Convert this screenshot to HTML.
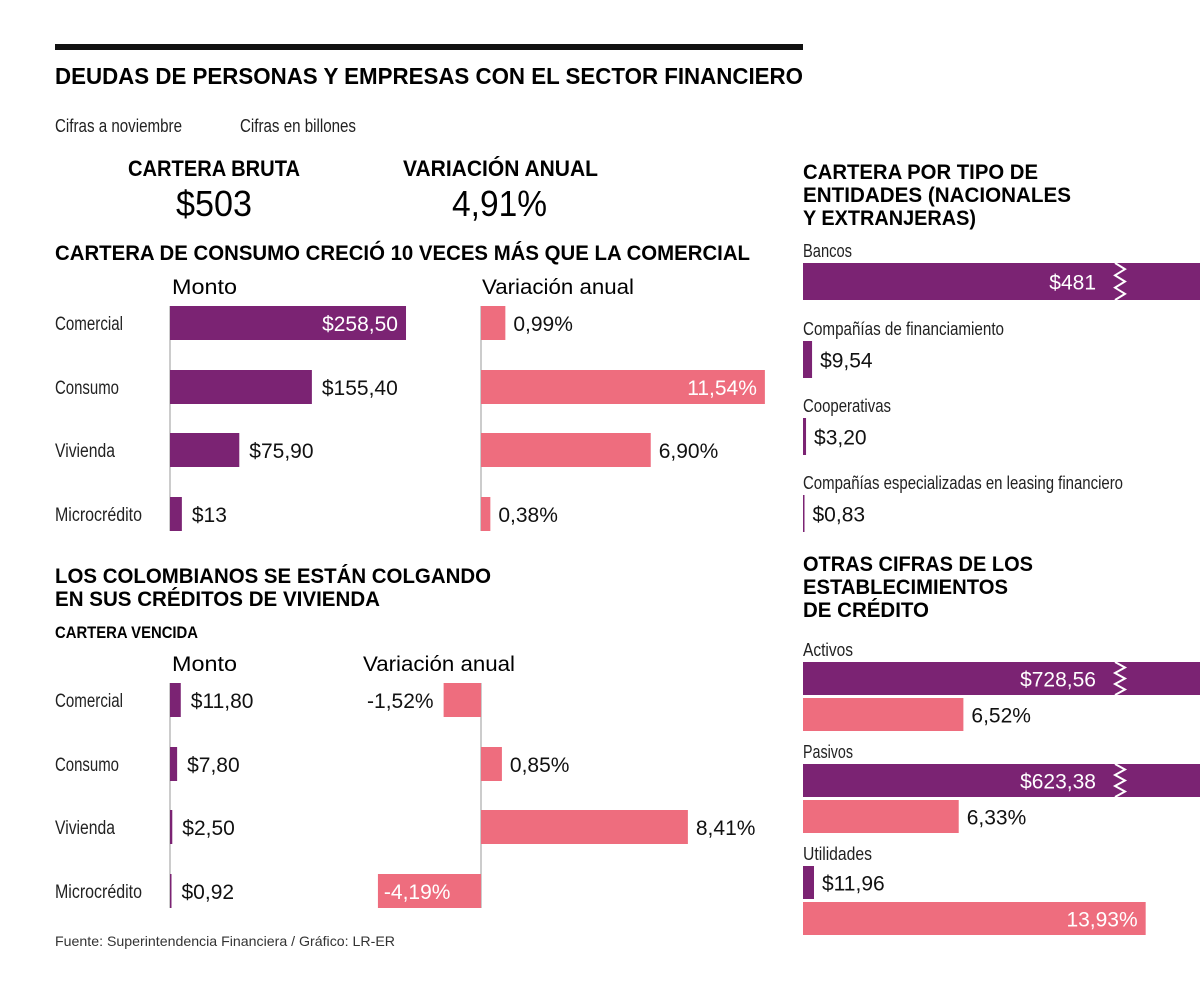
<!DOCTYPE html>
<html><head><meta charset="utf-8">
<style>
html,body{margin:0;padding:0;background:#fff;}
svg{display:block;font-family:"Liberation Sans Narrow","Liberation Sans",sans-serif;}
.b{font-weight:bold;}
</style></head>
<body>
<svg id="c" width="1200" height="996" viewBox="0 0 1200 996" xmlns="http://www.w3.org/2000/svg">
<rect x="55" y="44" width="748" height="6" fill="#111"/>
<text x="55" y="84" font-size="23" class="b" textLength="748" lengthAdjust="spacingAndGlyphs">DEUDAS DE PERSONAS Y EMPRESAS CON EL SECTOR FINANCIERO</text>
<text x="55" y="132" font-size="18" textLength="127" lengthAdjust="spacingAndGlyphs" fill="#222">Cifras a noviembre</text>
<text x="240" y="132" font-size="18" textLength="116" lengthAdjust="spacingAndGlyphs" fill="#222">Cifras en billones</text>
<text x="128" y="176" font-size="22" class="b" textLength="172" lengthAdjust="spacingAndGlyphs">CARTERA BRUTA</text>
<text x="176" y="216" font-size="36" textLength="76" lengthAdjust="spacingAndGlyphs">$503</text>
<text x="403" y="176" font-size="22" class="b" textLength="195" lengthAdjust="spacingAndGlyphs">VARIACIÓN ANUAL</text>
<text x="452" y="216" font-size="36" textLength="95" lengthAdjust="spacingAndGlyphs">4,91%</text>
<text x="55" y="260" font-size="21" class="b" textLength="695" lengthAdjust="spacingAndGlyphs">CARTERA DE CONSUMO CRECIÓ 10 VECES MÁS QUE LA COMERCIAL</text>
<text x="172" y="294" font-size="21" textLength="65" lengthAdjust="spacingAndGlyphs">Monto</text>
<text x="482" y="294" font-size="21" textLength="152" lengthAdjust="spacingAndGlyphs">Variación anual</text>
<text x="55" y="583" font-size="21" class="b" textLength="436" lengthAdjust="spacingAndGlyphs">LOS COLOMBIANOS SE ESTÁN COLGANDO</text>
<text x="55" y="606" font-size="21" class="b" textLength="325" lengthAdjust="spacingAndGlyphs">EN SUS CRÉDITOS DE VIVIENDA</text>
<text x="55" y="638" font-size="17" class="b" textLength="143" lengthAdjust="spacingAndGlyphs">CARTERA VENCIDA</text>
<text x="172" y="671" font-size="21" textLength="65" lengthAdjust="spacingAndGlyphs">Monto</text>
<text x="363" y="671" font-size="21" textLength="152" lengthAdjust="spacingAndGlyphs">Variación anual</text>
<text x="803" y="179" font-size="21" class="b" textLength="235" lengthAdjust="spacingAndGlyphs">CARTERA POR TIPO DE</text>
<text x="803" y="202" font-size="21" class="b" textLength="268" lengthAdjust="spacingAndGlyphs">ENTIDADES (NACIONALES</text>
<text x="803" y="225" font-size="21" class="b" textLength="173" lengthAdjust="spacingAndGlyphs">Y EXTRANJERAS)</text>
<text x="803" y="571" font-size="21" class="b" textLength="230" lengthAdjust="spacingAndGlyphs">OTRAS CIFRAS DE LOS</text>
<text x="803" y="594" font-size="21" class="b" textLength="205" lengthAdjust="spacingAndGlyphs">ESTABLECIMIENTOS</text>
<text x="803" y="617" font-size="21" class="b" textLength="126" lengthAdjust="spacingAndGlyphs">DE CRÉDITO</text>
<text x="55" y="946" font-size="14" textLength="340" lengthAdjust="spacingAndGlyphs" fill="#333">Fuente: Superintendencia Financiera / Gráfico: LR-ER</text>
</svg>
<script>
const categories = ["Comercial","Consumo","Vivienda","Microcrédito"];
const catWidths = [68,64,60,87];
const s1Monto = [258.50,155.40,75.90,13];
const s1MontoLabels = ["$258,50","$155,40","$75,90","$13"];
const s1Var = [0.99,11.54,6.90,0.38];
const s1VarLabels = ["0,99%","11,54%","6,90%","0,38%"];
const s2Monto = [11.80,7.80,2.50,0.92];
const s2MontoLabels = ["$11,80","$7,80","$2,50","$0,92"];
const s2Var = [-1.52,0.85,8.41,-4.19];
const s2VarLabels = ["-1,52%","0,85%","8,41%","-4,19%"];
const entityNames = ["Bancos","Compañías de financiamiento","Cooperativas","Compañías especializadas en leasing financiero"];
const entityNameWidths = [49,201,88,320];
const entityValues = [481,9.54,3.20,0.83];
const entityLabels = ["$481","$9,54","$3,20","$0,83"];
const otherNames = ["Activos","Pasivos","Utilidades"];
const otherNameWidths = [50,50,69];
const otherValues = [728.56,623.38,11.96];
const otherValueLabels = ["$728,56","$623,38","$11,96"];
const otherVar = [6.52,6.33,13.93];
const otherVarLabels = ["6,52%","6,33%","13,93%"];

const NS="http://www.w3.org/2000/svg", svg=document.getElementById('c');
const PUR="#7b2373", PINK="#ee6d7e";
const INSIDE=220;
function mk(tag,attrs){const e=document.createElementNS(NS,tag);for(const k in attrs)e.setAttribute(k,attrs[k]);svg.appendChild(e);return e;}
function txt(x,y,s,size,fill,anchor){const t=mk('text',{x:x,y:y,'font-size':size,fill:fill,'text-anchor':anchor||'start'});t.textContent=s;return t;}
const mScale = v => v*0.913;
const vScale = v => v*24.6;
const BREAKW = 397;

const rows1 = [306,370,433,497], rows2=[683,747,810,874], BH=34;
function section(rows, monto, montoL, vr, vrL, secName){
  const ax=170, vx=481;
  const a1=mk('line',{x1:ax,y1:rows[0],x2:ax,y2:rows[3]+BH,stroke:'#bbb','stroke-width':1.5});
  
  
  const a2=mk('line',{x1:vx,y1:rows[0],x2:vx,y2:rows[3]+BH,stroke:'#bbb','stroke-width':1.5});
  
  
  categories.forEach((c,i)=>{
    const y=rows[i], cy=y+BH/2+7;
    const cl=txt(55,cy,c,19,'#222');
    cl.setAttribute('textLength',catWidths[i]);cl.setAttribute('lengthAdjust','spacingAndGlyphs');
    
    
    const w=Math.max(mScale(monto[i]),1.5);
    const b=mk('rect',{x:ax,y:y,width:w,height:BH,fill:PUR});
    
    
    let l;
    if(w>INSIDE) l=txt(ax+w-8,cy+1,montoL[i],21,'#fff','end'); else l=txt(ax+w+10,cy+1,montoL[i],21,'#111');
    
    
    const vw=vScale(vr[i]);
    const bx= vw>=0? vx : vx+vw;
    const vb=mk('rect',{x:bx,y:y,width:Math.abs(vw),height:BH,fill:PINK});
    
    
    let vl;
    if(vw<0){ vl = Math.abs(vw)>90 ? txt(bx+6,cy+1,vrL[i],21,'#fff') : txt(bx-10,cy+1,vrL[i],21,'#111','end'); }
    else { vl = vw>INSIDE ? txt(vx+vw-8,cy+1,vrL[i],21,'#fff','end') : txt(vx+vw+8,cy+1,vrL[i],21,'#111'); }
    
    
  });
}
section(rows1,s1Monto,s1MontoLabels,s1Var,s1VarLabels,'consumo-section');
section(rows2,s2Monto,s2MontoLabels,s2Var,s2VarLabels,'vencida-section');

function zig(x,y,h){
  let d=`M${x} ${y}`;const n=3,st=h/(n*2);
  for(let k=0;k<n*2;k++){d+=` L${x+(k%2===0?10:0)} ${y+st*(k+1)}`;}
  const p=mk('path',{d:d,fill:'none',stroke:'#fff','stroke-width':2});
  
  
}
function hbar(x,y,w,h,fill,label,name,broken){
  const ww = broken? BREAKW : Math.max(w,1.5);
  const r=mk('rect',{x:x,y:y,width:ww,height:h,fill:fill});
  
  
  let t;
  if(broken){ t=txt(1096,y+h/2+8,label,21,'#fff','end'); zig(1115,y,h); }
  else if(ww>INSIDE) t=txt(x+ww-8,y+h/2+8,label,21,'#fff','end');
  else t=txt(x+ww+8,y+h/2+8,label,21,'#111');
  
  
}
const eY=[263,341,418,495];
entityNames.forEach((n,i)=>{
  const l=txt(803,eY[i]-6,n,18,'#222');
  l.setAttribute('textLength',entityNameWidths[i]);l.setAttribute('lengthAdjust','spacingAndGlyphs');
  
  
  hbar(803,eY[i],entityValues[i]*0.95,37,PUR,entityLabels[i],'entity-bar',entityValues[i]*0.95>BREAKW);
});
const oY=[662,764,866];
otherNames.forEach((n,i)=>{
  const l=txt(803,oY[i]-6,n,18,'#222');
  l.setAttribute('textLength',otherNameWidths[i]);l.setAttribute('lengthAdjust','spacingAndGlyphs');
  
  
  hbar(803,oY[i],otherValues[i]*0.92,33,PUR,otherValueLabels[i],'other-value-bar',otherValues[i]*0.92>BREAKW);
  hbar(803,oY[i]+36,otherVar[i]*24.6,33,PINK,otherVarLabels[i],'other-var-bar',false);
});
</script>
</body></html>
